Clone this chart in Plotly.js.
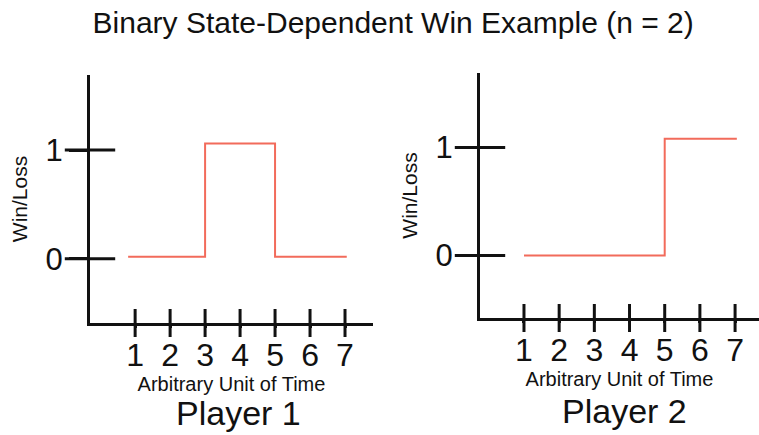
<!DOCTYPE html>
<html>
<head>
<meta charset="utf-8">
<script src="https://cdn.plot.ly/plotly-3.0.1.min.js"></script>
<style>html,body{margin:0;padding:0;background:#fff;}#chart{width:759px;height:435px;}</style>
</head>
<body>
<div id="chart"></div>
<script>
// Data
const tickVals = [1, 2, 3, 4, 5, 6, 7];
const tickText = ["1", "2", "3", "4", "5", "6", "7"];
const yTickVals = [0, 1];
const yTickText = ["0", "1"];
const p1Time = [0.8, 3, 5, 7.05];
const p1WinLoss = [0.02, 1.06, 0.02, 0.02];
const p2Time = [1, 5, 7.05];
const p2WinLoss = [0, 1.08, 1.08];
const panelLabels = ["Player 1", "Player 2"];

const FONT = "Liberation Sans, Arial, Helvetica, sans-serif";
const LINE = "#f26b5b";
const AX = "#111";

const x1Range = [-0.29, 7.8], y1Range = [-0.59, 1.69];
const x2Range = [-0.25, 7.68], y2Range = [-0.58, 1.69];

function crossTicks(xa, ya, xr, yr) {
  return [
    {x: tickVals, y: tickVals.map(() => yr[0]), xaxis: xa, yaxis: ya, mode: 'markers',
     marker: {symbol: 'line-ns-open', size: 20, color: AX, line: {width: 3, color: AX}},
     cliponaxis: false, hoverinfo: 'skip', showlegend: false},
    {x: yTickVals.map(() => xr[0]), y: yTickVals, xaxis: xa, yaxis: ya, mode: 'markers',
     marker: {symbol: 'line-ew-open', size: 36, color: AX, line: {width: 3, color: AX}},
     cliponaxis: false, hoverinfo: 'skip', showlegend: false}
  ];
}

const traces = [
  {x: p1Time, y: p1WinLoss, xaxis: 'x', yaxis: 'y', mode: 'lines', line: {shape: 'hv', color: LINE, width: 2}, showlegend: false, name: panelLabels[0]},
  {x: p2Time, y: p2WinLoss, xaxis: 'x2', yaxis: 'y2', mode: 'lines', line: {shape: 'hv', color: LINE, width: 2}, showlegend: false, name: panelLabels[1]},
  ...crossTicks('x', 'y', x1Range, y1Range),
  ...crossTicks('x2', 'y2', x2Range, y2Range)
];

function xAxis(dom, range, anchor) {
  return {domain: dom, range: range, anchor: anchor, showgrid: false, zeroline: false,
    showline: true, linewidth: 3, linecolor: AX, ticks: 'outside', ticklen: 2, tickwidth: 3, tickcolor: AX,
    tickvals: tickVals, ticktext: tickText, tickfont: {family: FONT, size: 32, color: AX},
    title: {text: 'Arbitrary Unit of Time', font: {family: FONT, size: 20, color: AX}, standoff: 3}};
}
function yAxis(dom, range, anchor) {
  return {domain: dom, range: range, anchor: anchor, showgrid: false, zeroline: false,
    showline: true, linewidth: 3, linecolor: AX, ticks: 'outside', ticklen: 18, tickwidth: 3, tickcolor: AX,
    tickvals: yTickVals, ticktext: yTickText, tickfont: {family: FONT, size: 31, color: AX},
    title: {text: 'Win/Loss', font: {family: FONT, size: 21, color: AX}, standoff: 13}};
}

const layout = {
  width: 759, height: 435,
  margin: {l: 0, r: 0, t: 0, b: 0},
  paper_bgcolor: '#fff', plot_bgcolor: '#fff',
  font: {family: FONT, color: AX},
  title: {text: 'Binary State-Dependent Win Example (n = 2)', font: {family: FONT, size: 30, color: AX},
          x: 0.518, xanchor: 'center', y: 1 - 22/435, yanchor: 'middle', xref: 'paper', yref: 'container'},
  xaxis: xAxis([90/759, 373/759], x1Range, 'y'),
  yaxis: yAxis([(435-323)/435, (435-75)/435], y1Range, 'x'),
  xaxis2: xAxis([480/759, 1], x2Range, 'y2'),
  yaxis2: yAxis([(435-318)/435, (435-73)/435], y2Range, 'x2'),
  annotations: [
    {text: panelLabels[0], xref: 'paper', yref: 'paper', x: 238/759, y: 1 - 413/435, xanchor: 'center', yanchor: 'middle', showarrow: false, font: {family: FONT, size: 34, color: AX}},
    {text: panelLabels[1], xref: 'paper', yref: 'paper', x: 624/759, y: 1 - 411/435, xanchor: 'center', yanchor: 'middle', showarrow: false, font: {family: FONT, size: 34, color: AX}}
  ]
};

Plotly.newPlot('chart', traces, layout, {staticPlot: true, displayModeBar: false});
</script>
</body>
</html>
